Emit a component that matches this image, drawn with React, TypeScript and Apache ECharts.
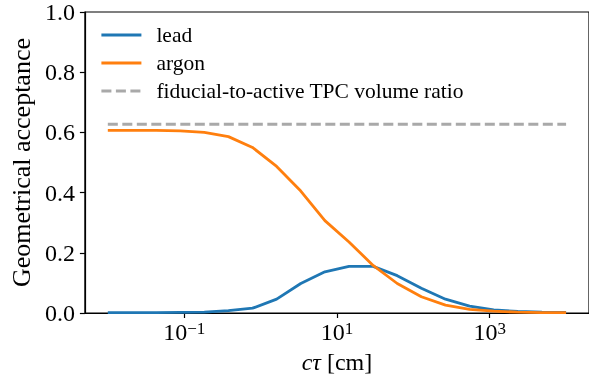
import React, { useEffect, useRef } from "react";
import * as echarts from "echarts";

// Decay length c·tau [cm], log-spaced grid from 1e-2 to 1e4
const ctau = [
  0.01, 0.02069, 0.04281, 0.08859, 0.1833, 0.3793, 0.7848, 1.624, 3.36, 6.952,
  14.38, 29.76, 61.58, 127.4, 263.7, 545.6, 1129, 2336, 4833, 10000,
];

// Geometrical acceptance for each detector target
const leadAcceptance = [
  0.001, 0.001, 0.001, 0.002, 0.003, 0.008, 0.016, 0.046, 0.098, 0.137,
  0.155, 0.155, 0.124, 0.082, 0.046, 0.023, 0.01, 0.005, 0.003, 0.002,
];
const argonAcceptance = [
  0.607, 0.607, 0.607, 0.605, 0.6, 0.586, 0.55, 0.487, 0.405, 0.307,
  0.236, 0.158, 0.098, 0.054, 0.026, 0.012, 0.006, 0.003, 0.0015, 0.001,
];

// Fiducial-to-active TPC volume ratio (constant reference level)
const fiducialRatio = 0.627;

const xTickValues = [0.1, 10, 1000];
const yTickStep = 0.2;

const FONT = "'Liberation Serif', 'Times New Roman', serif";
const BLUE = "#1f77b4";
const ORANGE = "#ff7f0e";
const GREY = "#a9a9a9";
const LINE_W = 2.8;

export default function App() {
  const ref = useRef<HTMLDivElement>(null);

  useEffect(() => {
    if (!ref.current) return;
    const chart = echarts.init(ref.current, null, { renderer: "svg" });

    const pairs = (ys: number[]) => ctau.map((x, i) => [x, ys[i]]);

    chart.setOption({
      animation: false,
      textStyle: { fontFamily: FONT, color: "#000" },
      grid: {
        left: 83,
        top: 10.5,
        width: 508,
        height: 302.5,
        show: true,
        borderColor: "#000",
        borderWidth: 1.2,
        backgroundColor: "transparent",
      },
      legend: {
        left: 100,
        top: 24,
        padding: 0,
        orient: "vertical",
        itemWidth: 40,
        itemHeight: 14,
        itemGap: 6,
        // hide the marker dot, keep only the line sample
        itemStyle: {
          color: "rgba(0,0,0,0)",
          borderColor: "rgba(0,0,0,0)",
          borderWidth: 0,
          opacity: 0,
        },
        lineStyle: { width: LINE_W },
        data: ["lead", "argon", "fiducial-to-active TPC volume ratio"],
        textStyle: {
          fontFamily: FONT,
          fontSize: 21.5,
          color: "#000",
          lineHeight: 22,
          padding: [0, 0, 0, 10],
        },
      },
      xAxis: {
        type: "log",
        logBase: 10,
        min: Math.pow(10, -2.3),
        max: Math.pow(10, 4.3),
        name: "{i|cτ} [cm]",
        nameLocation: "middle",
        nameGap: 37,
        nameTextStyle: {
          fontFamily: FONT,
          fontSize: 24,
          color: "#000",
          rich: {
            i: { fontFamily: FONT, fontSize: 24, fontStyle: "italic", color: "#000" },
          },
        },
        axisLine: { show: true, lineStyle: { color: "#000", width: 1.2 } },
        axisTick: {
          show: true,
          length: 5,
          customValues: xTickValues,
          lineStyle: { color: "#000", width: 1.2 },
        },
        minorTick: { show: false },
        splitLine: { show: false },
        axisLabel: {
          customValues: xTickValues,
          margin: 7,
          formatter: (v: number) => {
            const e = Math.round(Math.log10(v));
            return `{b|10}{s|${e < 0 ? "\u2212" : ""}${Math.abs(e)}}`;
          },
          rich: {
            b: { fontFamily: FONT, fontSize: 24, color: "#000", verticalAlign: "bottom" },
            s: { fontFamily: FONT, fontSize: 17, color: "#000", verticalAlign: "top" },
          },
        },
      },
      yAxis: {
        type: "value",
        min: 0,
        max: 1,
        interval: yTickStep,
        name: "Geometrical acceptance",
        nameLocation: "middle",
        nameGap: 49,
        nameTextStyle: { fontFamily: FONT, fontSize: 26, color: "#000" },
        axisLine: { show: true, lineStyle: { color: "#000", width: 1.2 } },
        axisTick: { show: true, length: 5, lineStyle: { color: "#000", width: 1.2 } },
        splitLine: { show: false },
        axisLabel: {
          margin: 10,
          fontFamily: FONT,
          fontSize: 24,
          color: "#000",
          formatter: (v: number) => v.toFixed(1),
        },
      },
      series: [
        {
          name: "lead",
          type: "line",
          data: pairs(leadAcceptance),
          symbol: "none",
          showSymbol: false,
          lineStyle: { color: BLUE, width: LINE_W },
          itemStyle: { color: BLUE },
        },
        {
          name: "argon",
          type: "line",
          data: pairs(argonAcceptance),
          symbol: "none",
          showSymbol: false,
          lineStyle: { color: ORANGE, width: LINE_W },
          itemStyle: { color: ORANGE },
        },
        {
          name: "fiducial-to-active TPC volume ratio",
          type: "line",
          data: [
            [ctau[0], fiducialRatio],
            [ctau[ctau.length - 1], fiducialRatio],
          ],
          symbol: "none",
          showSymbol: false,
          lineStyle: { color: GREY, width: LINE_W, type: [10, 4.5] },
          itemStyle: { color: GREY },
        },
      ],
    });

    return () => chart.dispose();
  }, []);

  return (
    <div
      ref={ref}
      style={{ position: "fixed", left: 0, top: 0, width: 589, height: 389 }}
    />
  );
}
